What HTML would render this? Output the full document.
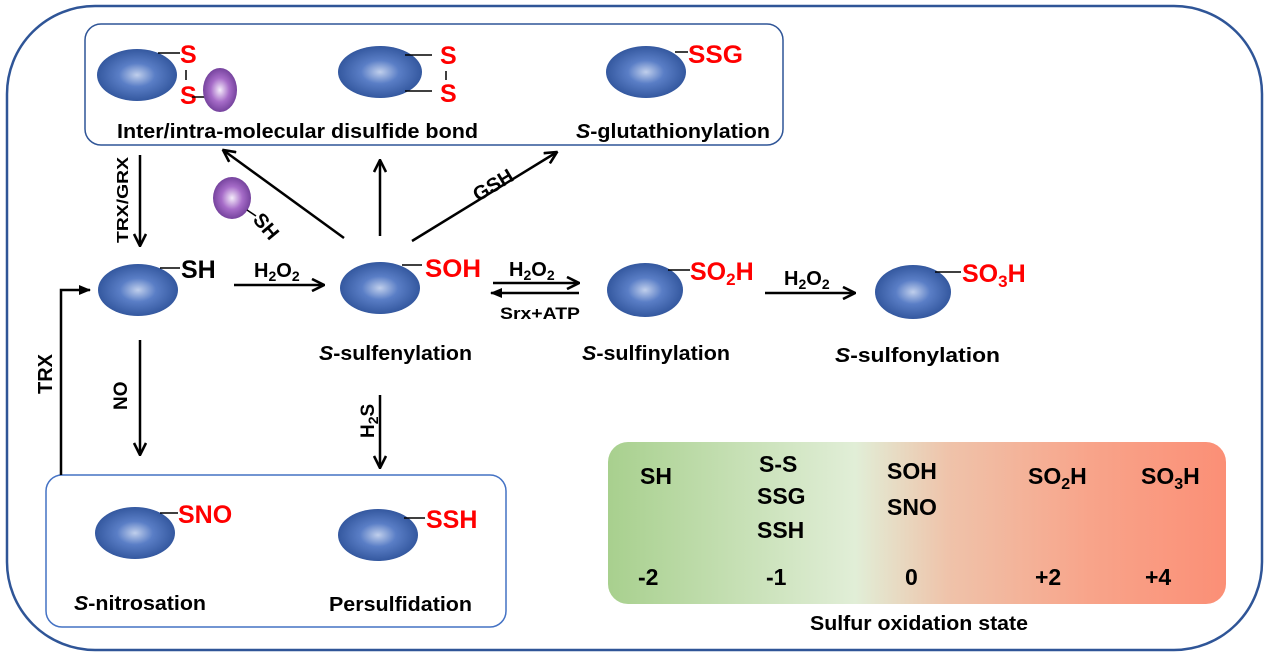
<!DOCTYPE html>
<html><head><meta charset="utf-8"><style>
html,body{margin:0;padding:0;background:#fff}
svg{display:block}
text{font-family:"Liberation Sans",sans-serif;font-weight:bold}
</style></head><body>
<svg width="1269" height="661" viewBox="0 0 1269 661" xmlns="http://www.w3.org/2000/svg">
<defs>
<radialGradient id="bl" cx="0.5" cy="0.5" r="0.5">
<stop offset="0" stop-color="#c0cfec"/><stop offset="0.45" stop-color="#5a7ec6"/><stop offset="1" stop-color="#34589f"/></radialGradient>
<radialGradient id="pu" cx="0.5" cy="0.5" r="0.55">
<stop offset="0" stop-color="#f4ecfa"/><stop offset="0.5" stop-color="#a66cc8"/><stop offset="1" stop-color="#6b3a94"/></radialGradient>
<linearGradient id="ox" x1="0" x2="1" y1="0" y2="0">
<stop offset="0" stop-color="#a8d08e"/><stop offset="0.4" stop-color="#e1eed7"/><stop offset="0.55" stop-color="#efc3aa"/><stop offset="0.78" stop-color="#f8a48a"/><stop offset="1" stop-color="#fb8f76"/></linearGradient>
<marker id="ch" viewBox="0 0 14 14" refX="13" refY="7" markerWidth="14" markerHeight="14" markerUnits="userSpaceOnUse" orient="auto">
<polyline points="1,1 13,7 1,13" fill="none" stroke="#000" stroke-width="2.6"/></marker>
<marker id="tri" viewBox="0 0 12 12" refX="11" refY="6" markerWidth="12" markerHeight="12" markerUnits="userSpaceOnUse" orient="auto">
<polygon points="0,1 12,6 0,11" fill="#000"/></marker>
</defs>
<rect x="7" y="6" width="1255" height="644" rx="88" fill="none" stroke="#2f5597" stroke-width="2.5"/>
<rect x="85" y="24" width="698" height="121" rx="16" fill="none" stroke="#2f5597" stroke-width="1.5"/>
<rect x="46" y="475" width="460" height="152" rx="16" fill="none" stroke="#4472c4" stroke-width="1.5"/>

<!-- top box -->
<ellipse cx="137" cy="75" rx="40" ry="26" fill="url(#bl)"/>
<line x1="158" y1="53" x2="180" y2="53" stroke="#000" stroke-width="1.5"/>
<text x="180" y="63" font-size="25" fill="#f00">S</text>
<line x1="186" y1="70" x2="186" y2="80" stroke="#000" stroke-width="1.5"/>
<text x="180" y="104" font-size="25" fill="#f00">S</text>
<line x1="192" y1="97" x2="205" y2="97" stroke="#000" stroke-width="1.5"/>
<ellipse cx="220" cy="90" rx="17" ry="22" fill="url(#pu)"/>
<ellipse cx="380" cy="72" rx="42" ry="26" fill="url(#bl)"/>
<line x1="405" y1="55" x2="432" y2="55" stroke="#000" stroke-width="1.5"/>
<line x1="405" y1="91" x2="432" y2="91" stroke="#000" stroke-width="1.5"/>
<text x="440" y="64" font-size="25" fill="#f00">S</text>
<line x1="446" y1="71" x2="446" y2="80" stroke="#000" stroke-width="1.5"/>
<text x="440" y="102" font-size="25" fill="#f00">S</text>
<text x="117" y="138" font-size="20" textLength="361" lengthAdjust="spacingAndGlyphs">Inter/intra-molecular disulfide bond</text>
<ellipse cx="646" cy="72" rx="40" ry="26" fill="url(#bl)"/>
<line x1="675" y1="52" x2="688" y2="52" stroke="#000" stroke-width="1.5"/>
<text x="688" y="63" font-size="25" fill="#f00" textLength="55" lengthAdjust="spacingAndGlyphs">SSG</text>
<text x="576" y="138" font-size="20" textLength="194" lengthAdjust="spacingAndGlyphs"><tspan font-style="italic">S</tspan>-glutathionylation</text>

<!-- middle row -->
<ellipse cx="138" cy="290" rx="40" ry="26" fill="url(#bl)"/>
<line x1="160" y1="268" x2="180" y2="268" stroke="#000" stroke-width="1.5"/>
<text x="181" y="278" font-size="25">SH</text>
<ellipse cx="380" cy="288" rx="40" ry="26" fill="url(#bl)"/>
<line x1="402" y1="265" x2="422" y2="265" stroke="#000" stroke-width="1.5"/>
<text x="425" y="277" font-size="25" fill="#f00" textLength="56" lengthAdjust="spacingAndGlyphs">SOH</text>
<text x="319" y="360" font-size="20" textLength="153" lengthAdjust="spacingAndGlyphs"><tspan font-style="italic">S</tspan>-sulfenylation</text>
<ellipse cx="645" cy="290" rx="38" ry="27" fill="url(#bl)"/>
<line x1="668" y1="270" x2="690" y2="270" stroke="#000" stroke-width="1.5"/>
<text x="690" y="280" font-size="25" fill="#f00">SO<tspan font-size="17" dy="5">2</tspan><tspan dy="-5">H</tspan></text>
<text x="582" y="360" font-size="20" textLength="148" lengthAdjust="spacingAndGlyphs"><tspan font-style="italic">S</tspan>-sulfinylation</text>
<ellipse cx="913" cy="292" rx="38" ry="27" fill="url(#bl)"/>
<line x1="935" y1="272" x2="961" y2="272" stroke="#000" stroke-width="1.5"/>
<text x="962" y="282" font-size="25" fill="#f00">SO<tspan font-size="17" dy="5">3</tspan><tspan dy="-5">H</tspan></text>
<text x="835" y="362" font-size="20" textLength="165" lengthAdjust="spacingAndGlyphs"><tspan font-style="italic">S</tspan>-sulfonylation</text>

<!-- purple SH -->
<ellipse cx="232" cy="198" rx="19" ry="21" fill="url(#pu)"/>
<line x1="247" y1="210" x2="256" y2="216" stroke="#000" stroke-width="1.5"/>
<text x="0" y="0" font-size="20" transform="translate(252,220) rotate(50)">SH</text>

<!-- arrows -->
<g stroke="#000" stroke-width="2.5" fill="none">
<line x1="140" y1="155" x2="140" y2="246" marker-end="url(#ch)"/>
<line x1="234" y1="285" x2="324" y2="285" marker-end="url(#ch)"/>
<line x1="344" y1="238" x2="223" y2="150" marker-end="url(#ch)"/>
<line x1="380" y1="236" x2="380" y2="160" marker-end="url(#ch)"/>
<line x1="412" y1="241" x2="557" y2="152" marker-end="url(#ch)"/>
<line x1="493" y1="283" x2="579" y2="283" marker-end="url(#ch)"/>
<line x1="579" y1="293" x2="491" y2="293" marker-end="url(#tri)"/>
<line x1="765" y1="293" x2="855" y2="293" marker-end="url(#ch)"/>
<line x1="140" y1="340" x2="140" y2="455" marker-end="url(#ch)"/>
<line x1="380" y1="395" x2="380" y2="468" marker-end="url(#ch)"/>
<polyline points="61,475 61,290 90,290" marker-end="url(#tri)"/>
</g>
<text font-size="16" transform="translate(128,243) rotate(-90)" textLength="86" lengthAdjust="spacingAndGlyphs">TRX/GRX</text>
<text x="254" y="277" font-size="20">H<tspan font-size="14" dy="4">2</tspan><tspan dy="-4">O</tspan><tspan font-size="14" dy="4">2</tspan></text>
<text font-size="20" transform="translate(478,202) rotate(-31)">GSH</text>
<text x="509" y="276" font-size="20">H<tspan font-size="14" dy="4">2</tspan><tspan dy="-4">O</tspan><tspan font-size="14" dy="4">2</tspan></text>
<text x="500" y="319" font-size="17" textLength="80" lengthAdjust="spacingAndGlyphs">Srx+ATP</text>
<text x="784" y="285" font-size="20">H<tspan font-size="14" dy="4">2</tspan><tspan dy="-4">O</tspan><tspan font-size="14" dy="4">2</tspan></text>
<text font-size="19" transform="translate(127,410) rotate(-90)">NO</text>
<text font-size="19" transform="translate(374,438) rotate(-90)">H<tspan font-size="14" dy="4">2</tspan><tspan dy="-4">S</tspan></text>
<text font-size="20" transform="translate(52,394) rotate(-90)">TRX</text>

<!-- bottom box -->
<ellipse cx="135" cy="533" rx="40" ry="26" fill="url(#bl)"/>
<line x1="160" y1="513" x2="178" y2="513" stroke="#000" stroke-width="1.5"/>
<text x="178" y="523" font-size="25" fill="#f00">SNO</text>
<text x="74" y="610" font-size="20" textLength="132" lengthAdjust="spacingAndGlyphs"><tspan font-style="italic">S</tspan>-nitrosation</text>
<ellipse cx="378" cy="535" rx="40" ry="26" fill="url(#bl)"/>
<line x1="404" y1="518" x2="425" y2="518" stroke="#000" stroke-width="1.5"/>
<text x="426" y="528" font-size="25" fill="#f00">SSH</text>
<text x="329" y="611" font-size="20" textLength="143" lengthAdjust="spacingAndGlyphs">Persulfidation</text>

<!-- oxidation state -->
<rect x="608" y="442" width="618" height="162" rx="20" fill="url(#ox)"/>
<g font-size="23">
<text x="640" y="484">SH</text>
<text x="759" y="472">S-S</text>
<text x="757" y="504">SSG</text>
<text x="757" y="538">SSH</text>
<text x="887" y="479">SOH</text>
<text x="887" y="515">SNO</text>
<text x="1028" y="484">SO<tspan font-size="16" dy="5">2</tspan><tspan dy="-5">H</tspan></text>
<text x="1141" y="484">SO<tspan font-size="16" dy="5">3</tspan><tspan dy="-5">H</tspan></text>
<text x="638" y="585">-2</text>
<text x="766" y="585">-1</text>
<text x="905" y="585">0</text>
<text x="1035" y="585">+2</text>
<text x="1145" y="585">+4</text>
</g>
<text x="810" y="630" font-size="20" textLength="218" lengthAdjust="spacingAndGlyphs">Sulfur oxidation state</text>
</svg>
</body></html>
